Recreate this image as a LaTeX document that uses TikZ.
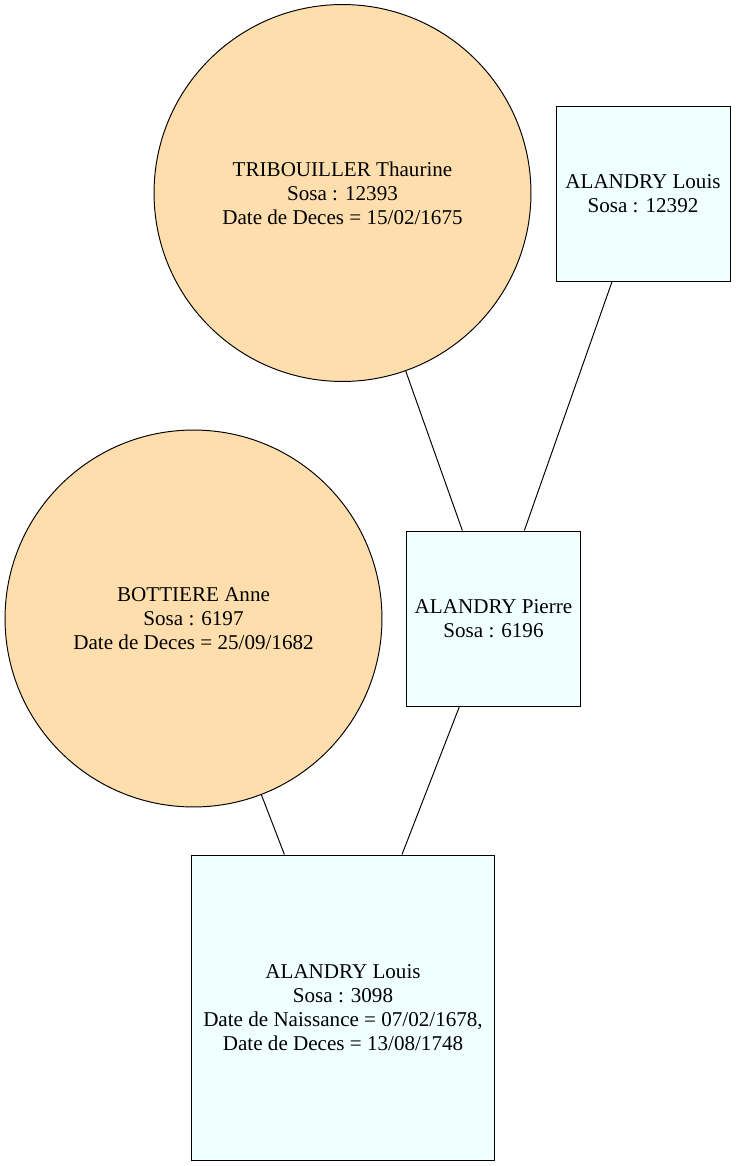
\documentclass[tikz,border=0pt]{standalone}
\usepackage{fontspec}
\setmainfont{Liberation Serif}
\usetikzlibrary{shapes}
\definecolor{femme}{HTML}{FFDEAD}
\definecolor{homme}{HTML}{F0FFFF}

\begin{document}
\begin{tikzpicture}[x=0.02cm, y=-0.02cm, line width=0.55pt,
    every node/.style={align=center, font=\fontsize{12}{13.6}\selectfont, inner sep=0pt},
    femmenode/.style={draw, circle, fill=femme, minimum size=7.54cm},
    hommenode/.style={draw, rectangle, fill=homme, minimum width=3.48cm, minimum height=3.5cm},
    grandnode/.style={hommenode, minimum width=6.08cm, minimum height=6.1cm}]
  \useasboundingbox (0,0) rectangle (736,1166);

  % generation 3
  \node[femmenode] (thaurine) at (342.5,193) {TRIBOUILLER Thaurine\\Sosa : 12393\\Date de Deces = 15/02/1675};
  \node[hommenode] (louisp) at (643,193.5) {ALANDRY Louis\\Sosa : 12392};

  % generation 2
  \node[femmenode] (anne) at (193.5,618.5) {BOTTIERE Anne\\Sosa : 6197\\Date de Deces = 25/09/1682};
  \node[hommenode] (pierre) at (493.5,618.5) {ALANDRY Pierre\\Sosa : 6196};

  % generation 1
  \node[grandnode] (louis) at (343,1007.5) {ALANDRY Louis\\Sosa : 3098\\Date de Naissance = 07/02/1678,\\Date de Deces = 13/08/1748};

  \draw (thaurine) -- (pierre);
  \draw (louisp) -- (pierre);
  \draw (anne) -- (louis);
  \draw (pierre) -- (louis);
\end{tikzpicture}
\end{document}
